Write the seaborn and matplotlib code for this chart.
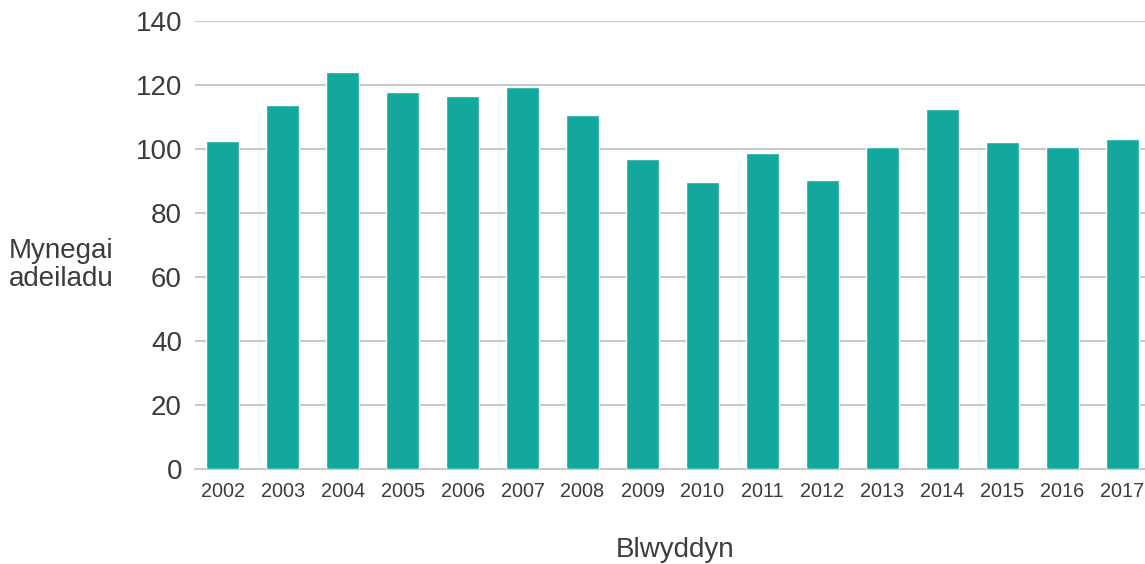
import matplotlib
matplotlib.use("Agg")
import matplotlib.pyplot as plt
import seaborn as sns
import pandas as pd

years = ['2002', '2003', '2004', '2005', '2006', '2007', '2008', '2009',
         '2010', '2011', '2012', '2013', '2014', '2015', '2016', '2017']
index_values = [102.4, 113.7, 124.0, 117.7, 116.5, 119.3, 110.5, 96.8,
                89.6, 98.7, 90.2, 100.5, 112.4, 102.1, 100.5, 103.0]
y_ticks = [0, 20, 40, 60, 80, 100, 120, 140]

df = pd.DataFrame({'Blwyddyn': years, 'Mynegai': index_values})

sns.set_style('white')
plt.rcParams['font.family'] = ['Liberation Sans', 'DejaVu Sans']
text_col = '#3c3c3c'

fig = plt.figure(figsize=(11.45, 5.64), dpi=100)
ax = fig.add_axes([195 / 1145, 95.3 / 564, 950 / 1145, 448 / 564])

sns.barplot(data=df, x='Blwyddyn', y='Mynegai', color='#12a89d',
            saturation=1, width=0.55, ax=ax, zorder=3)

ax.set_ylim(0, 140)
ax.set_xlim(-0.46, 15.375)
ax.set_yticks(y_ticks)
ax.yaxis.grid(True, color='#c8c8c8', linewidth=1.5, zorder=0)
ax.set_axisbelow(True)
for s in ['top', 'right', 'left']:
    ax.spines[s].set_visible(False)
ax.spines['bottom'].set_color('#c8c8c8')
ax.spines['bottom'].set_linewidth(1.5)

ax.tick_params(axis='y', length=0, pad=9.4, labelsize=20, labelcolor=text_col)
ax.tick_params(axis='x', length=0, pad=9.5, labelsize=14.3, labelcolor=text_col)

ax.set_xlabel('')
ax.set_ylabel('')
fig.text(675.5 / 1145, 1 - 556.7 / 564, 'Blwyddyn', ha='center', va='baseline',
         fontsize=20, color=text_col)
fig.text(9 / 1145, 1 - 265 / 564, 'Mynegai\nadeiladu', ha='left', va='center',
         fontsize=20, color=text_col, linespacing=1.15)

fig.savefig('out.png', dpi=100)
